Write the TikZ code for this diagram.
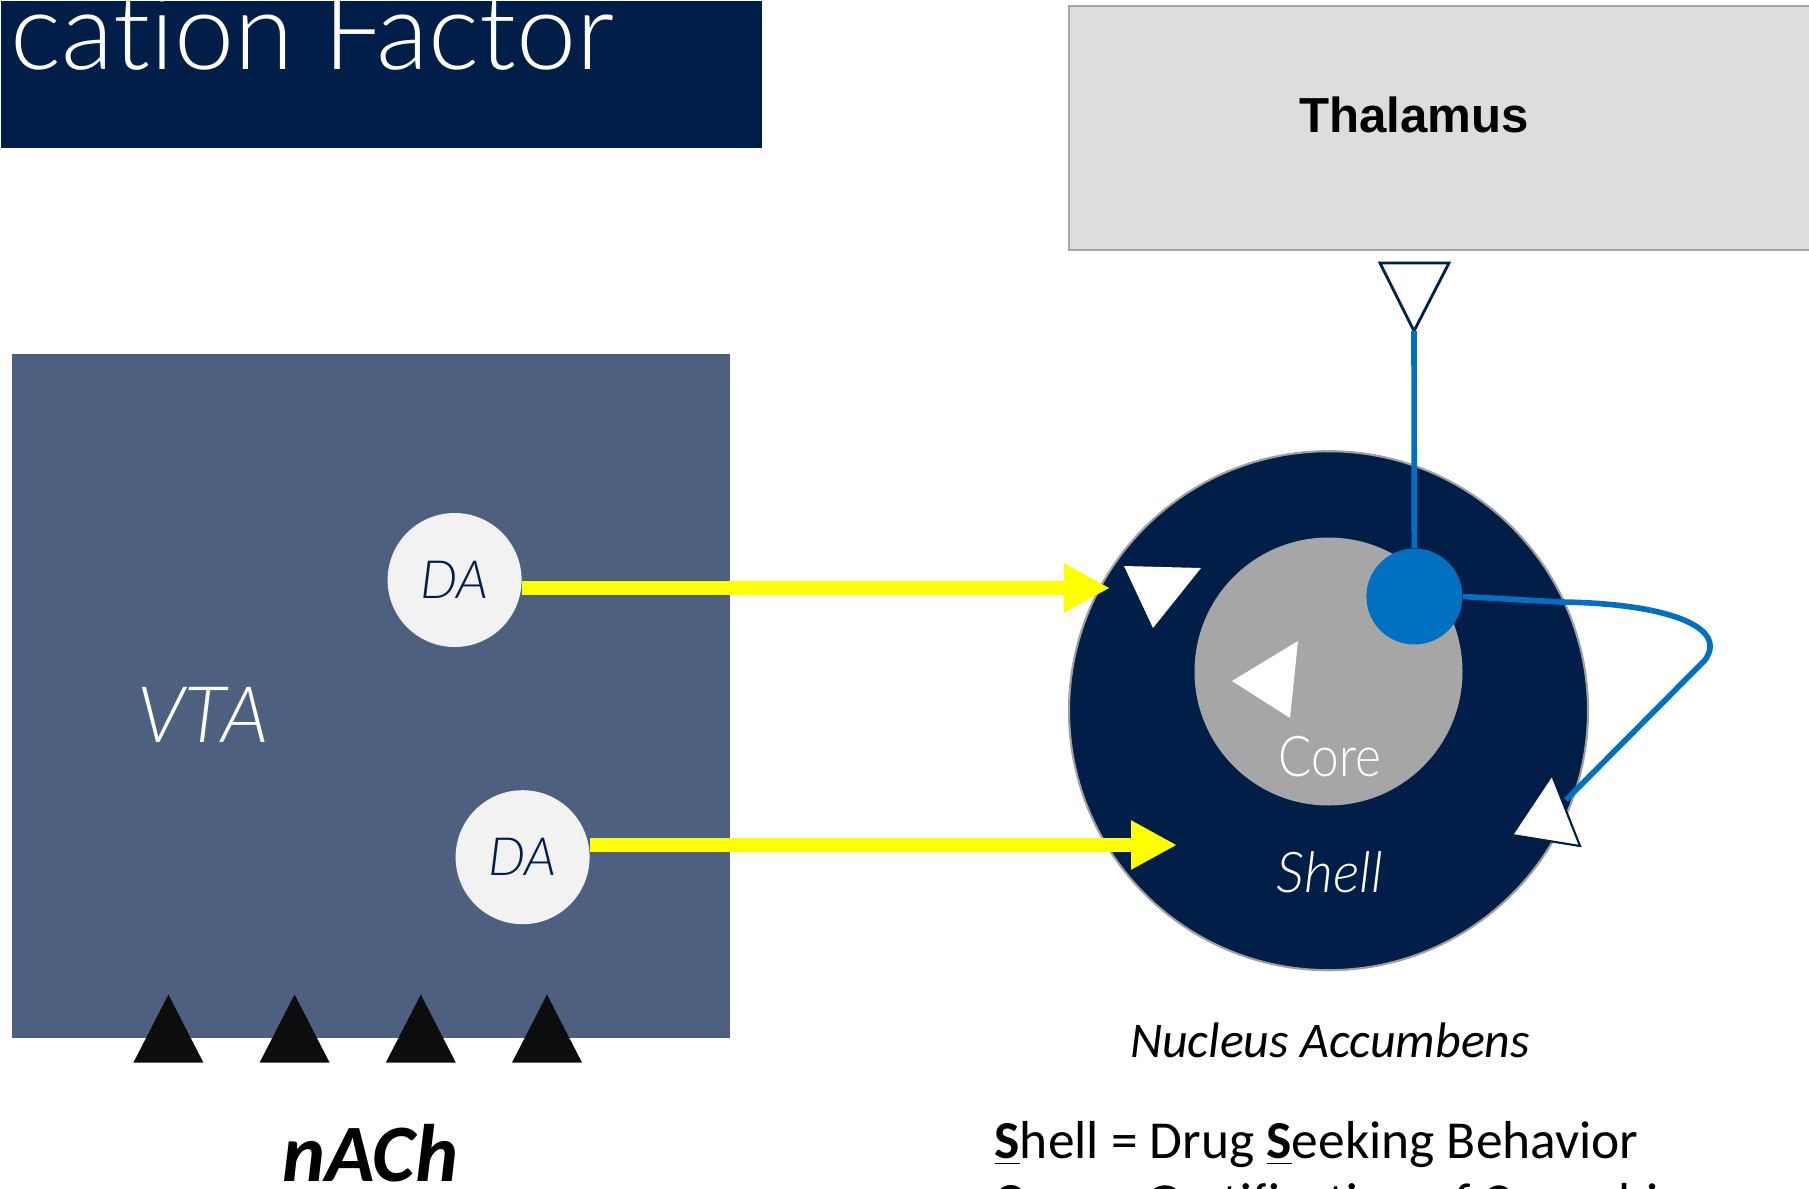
\documentclass[tikz,border=0pt]{standalone}
\usepackage{fontspec}
\setmainfont{Carlito}
\newfontfamily\latolight{Lato Light}[Ligatures=NoCommon]
\newfontfamily\latonarrow{Lato Light}[Ligatures=NoCommon, FakeStretch=0.88]
\newfontfamily\arialfont{Liberation Sans}
\usepackage{xcolor}
\usetikzlibrary{arrows.meta, positioning}
\definecolor{nacnavy}{RGB}{0,30,72}
\definecolor{vtablue}{RGB}{77,96,128}
\definecolor{dagray}{RGB}{242,242,242}
\definecolor{coregray}{RGB}{166,166,166}
\definecolor{thalgray}{RGB}{221,221,221}
\definecolor{thalrim}{RGB}{166,166,166}
\definecolor{shellrim}{RGB}{160,160,160}
\definecolor{axonblue}{RGB}{0,112,192}
\definecolor{dayellow}{RGB}{255,255,0}
\definecolor{receptorblack}{RGB}{13,13,13}
\tikzstyle{txt} = [inner sep=0pt]
\tikzstyle{neuron} = [circle, fill=dagray, minimum size=1.34cm, inner sep=0pt, text=nacnavy, font=\latolight\itshape\fontsize{15}{18}\selectfont]
\tikzstyle{dopa} = [line width=4pt, draw=dayellow, -{Triangle[length=0.46cm, width=0.46cm]}]
\tikzstyle{synapse} = [fill=white, line join=miter]
\tikzstyle{receptor} = [fill=receptorblack]
\tikzstyle{axon} = [line width=1.6pt, draw=axonblue]

\begin{document}
\begin{tikzpicture}
    \useasboundingbox (0,0) rectangle (18.09,-11.89);
    \clip (0,0) rectangle (18.09,-11.89);

    % Title bar
    \node[fill=nacnavy, minimum width=7.61cm, minimum height=1.47cm, anchor=north west, inner sep=0pt] (titlebar) at (0,0) {};
    \node[txt, anchor=base west, text=white, font=\latolight\fontsize{30.7}{35}\selectfont] (titletext) at (0.10,-0.69) {cation Factor};

    % Thalamus
    \node[draw=thalrim, fill=thalgray, line width=0.7pt, minimum width=8cm, minimum height=2.44cm, anchor=north west] (thalamus) at (10.68,-0.05) {};
    \node[txt, font=\arialfont\bfseries\fontsize{14}{17}\selectfont] (thallbl) at (14.14,-1.15) {Thalamus};
    \draw[synapse, draw=nacnavy, line width=0.8pt] (13.80,-2.63) -- (14.49,-2.63) -- (14.14,-3.31) -- cycle;
    \coordinate (thaltip) at (14.14,-3.31);

    % VTA
    \node[fill=vtablue, minimum width=7.175cm, minimum height=6.84cm, anchor=north west, inner sep=0pt] (vta) at (0.115,-3.53) {};
    \node[txt, text=white, font=\latolight\itshape\fontsize{22.2}{26}\selectfont, anchor=base] (vtalbl) at (2.03,-7.42) {VTA};
    \node[neuron] (da1) at (4.546,-5.80) {DA};
    \node[neuron] (da2) at (5.226,-8.572) {DA};

    % nACh receptors
    \foreach \i in {0,...,3}
        \fill[receptor] ({1.684+1.262*\i-0.35},-10.626) -- ({1.684+1.262*\i+0.35},-10.626) -- ({1.684+1.262*\i},-9.945) -- cycle;
    \node[txt, font=\bfseries\itshape\fontsize{23.2}{27}\selectfont, anchor=base] (nachlbl) at (3.70,-11.81) {nACh};

    % Nucleus Accumbens
    \node[circle, draw=shellrim, line width=0.6pt, fill=nacnavy, minimum size=5.19cm] (shell) at (13.285,-7.107) {};
    \node[circle, fill=coregray, minimum size=2.68cm] (core) at (13.285,-6.715) {};
    \node[txt, text=white, font=\latonarrow\fontsize{16}{19}\selectfont, anchor=base] (corelbl) at (13.30,-7.765) {Core};
    \node[txt, text=white, font=\latolight\itshape\fontsize{16}{19}\selectfont, anchor=base] (shelllbl) at (13.30,-8.92) {Shell};
    \node[txt, font=\itshape\fontsize{14.2}{17}\selectfont, anchor=base] (naclbl) at (13.30,-10.57) {Nucleus Accumbens};

    % Synapses
    \fill[synapse] (11.24,-5.66) -- (12.01,-5.68) -- (11.53,-6.28) -- cycle;
    \fill[synapse] (12.32,-6.81) -- (12.98,-6.41) -- (12.90,-7.18) -- cycle;
    \draw[synapse, draw=nacnavy, line width=0.6pt] (15.52,-7.75) -- (15.80,-8.46) -- (15.12,-8.35) -- cycle;
    \coordinate (looptip) at (15.66,-8.0);

    % Thalamic neuron
    \node[circle, fill=axonblue, minimum size=0.96cm, inner sep=0pt] (dot) at (14.144,-5.965) {};
    \draw[axon] (thaltip) -- (dot);
    \draw[axon] (dot.east) -- (15.6,-6.02) .. controls (16.6,-6.03) and (17.3,-6.25) .. (17.05,-6.6) -- (looptip);

    % Dopamine projections
    \coordinate (tip1) at (11.10,-5.88);
    \coordinate (tip2) at (11.77,-8.45);
    \draw[dopa] (da1.east |- tip1) -- (tip1);
    \draw[dopa] (da2.east |- tip2) -- (tip2);

    % Legend
    \node[txt, anchor=base west, font=\fontsize{15.2}{18}\selectfont] (legend1) at (9.94,-11.58) {\underline{\textbf{S}}hell = Drug \underline{\textbf{S}}eeking Behavior};
    \node[txt, anchor=base west, font=\fontsize{15.2}{18}\selectfont] (legend2) at (9.94,-12.20) {\underline{\textbf{C}}ore = Gratification of Cannabis};
\end{tikzpicture}
\end{document}
